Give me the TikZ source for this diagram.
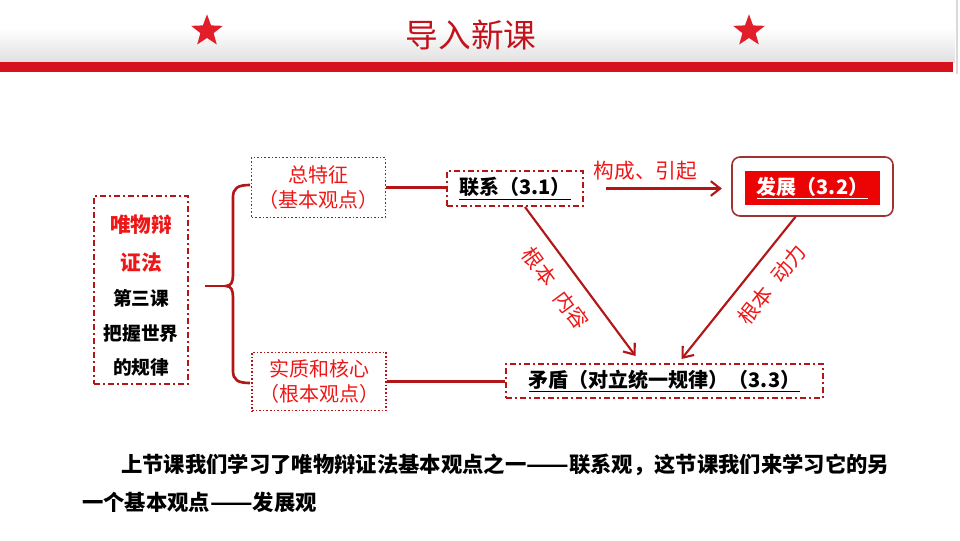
\documentclass[tikz,border=0pt]{standalone}
\usepackage{fontspec}
\setmainfont{Noto Sans CJK SC}
\usetikzlibrary{shapes.geometric,arrows.meta,calc}
\definecolor{barred}{RGB}{214,18,30}
\definecolor{titlered}{RGB}{196,18,28}
\definecolor{starred}{RGB}{226,30,42}
\definecolor{linered}{RGB}{178,22,22}
\definecolor{txtred}{RGB}{238,22,22}
\definecolor{framebrown}{RGB}{158,52,50}
\definecolor{fillred}{RGB}{236,4,4}
\newcommand{\longdash}{\resizebox{2em}{\height}{——}}

\begin{document}
\begin{tikzpicture}[x=0.75pt,y=-0.75pt]
\useasboundingbox (0,0) rectangle (960,540);
% header band
\shade[top color=white,bottom color=black!12] (0,28) rectangle (955,62);
\fill[barred] (0,62) rectangle (953,72);
\draw[black!15,line width=0.8pt] (957,0) -- (957,74);
\node[text=titlered,font=\fontsize{24.5}{28}\selectfont] (title) at (471,35) {导入新课};
\tikzstyle{redstar}=[star,star points=5,star point ratio=2.4,fill=starred,inner sep=0pt,minimum size=25pt]
\node[redstar] (starL) at (207,31) {};
\node[redstar] (starR) at (749,31) {};

\tikzstyle{dashbox}=[draw=linered,line width=1.5pt,dash pattern=on 4.5pt off 2.25pt on 1.5pt off 2.25pt,inner sep=0pt]
\tikzstyle{dotbox}=[draw=linered,line width=0.8pt,dash pattern=on 1.2pt off 1.5pt,inner sep=0pt,align=center,text=txtred,font=\fontsize{15}{18.75}\selectfont]
\tikzstyle{pen}=[draw=linered,line width=1.6pt]
\tikzstyle{arrowpen}=[pen,-{Straight Barb[length=7pt,width=11pt,line width=1.6pt]}]
\tikzstyle{keytext}=[font=\fontsize{15}{18}\selectfont\bfseries]
\tikzstyle{redlabel}=[text=txtred,font=\fontsize{15.5}{18}\selectfont,inner sep=0pt]

% left box
\node[dashbox,minimum width=70.5pt,minimum height=141pt] (dialectics) at (141,290) {};
\node[keytext,text=txtred,font=\fontsize{15.5}{18}\selectfont\bfseries] (l1) at (141,225) {唯物辩};
\node[keytext,text=txtred,font=\fontsize{15.5}{18}\selectfont\bfseries] (l2) at (141,263) {证法};
\node[keytext,font=\fontsize{14}{16}\selectfont\bfseries] (l3) at (141,298) {第三课};
\node[keytext,font=\fontsize{14}{16}\selectfont\bfseries] (l4) at (141,333) {把握世界};
\node[keytext,font=\fontsize{14}{16}\selectfont\bfseries] (l5) at (141,367) {的规律};

% brace
\coordinate (brace) at (226,286);
\draw[pen,line width=2pt] (250,185) .. controls (238,185) and (233,188) .. (233,197) -- (233,275)
  .. controls (233,282) and (231,286) .. (brace)
  .. controls (231,286) and (233,290) .. (233,297) -- (233,371)
  .. controls (233,380) and (238,383) .. (250,383);
\draw[pen,line width=2pt,shorten <=12pt] (dialectics.east |- brace) -- (brace);

\node[dotbox,minimum width=100pt,minimum height=45.5pt] (feature) at (318.5,187.5) {总特征\\（基本观点）};
\node[dotbox,minimum width=100.5pt,minimum height=44pt] (core) at (319,381.5) {实质和核心\\（根本观点）};

\node[dashbox,keytext,minimum width=102pt,minimum height=26.25pt] (lianxi) at (515,188.5) {\underline{联系（3.1）}};
\node[draw=framebrown,line width=1.2pt,rounded corners=6pt,minimum width=120.75pt,minimum height=44.25pt] (fazhanframe) at (812.5,186.5) {};
\node[keytext,fill=fillred,text=white,minimum width=101pt,minimum height=25.5pt] (fazhan) at (812.5,188) {\underline{发展（3.2）}};
\node[dashbox,keytext,minimum width=237.75pt,minimum height=25.5pt] (maodun) at (664.5,381) {\underline{矛盾（对立统一规律）（3.3）}};

\draw[pen] (feature.east) -- (feature.east -| lianxi.west);
\draw[pen] (core.east) -- (core.east -| maodun.west);
\draw[arrowpen,shorten <=16.5pt,shorten >=7pt] (lianxi.east) -- node[redlabel,above=5pt,xshift=-9pt]{构成、引起} (lianxi.east -| fazhanframe.west);
\draw[arrowpen] ($(lianxi.south)+(10,0)$) -- node[redlabel,sloped,below=10pt,pos=0.45]{根本\hspace{0.6em}内容} ($(maodun.north)+(-29,-7)$);
\draw[arrowpen] ($(fazhanframe.south)+(-17,0)$) -- node[redlabel,sloped,below=10pt,pos=0.37]{根本\hspace{0.6em}动力} ($(maodun.north)+(17,-4)$);

% bottom text
\node[keytext,font=\fontsize{16}{20}\selectfont\bfseries,anchor=west,inner sep=0pt] (para1) at (121,465) {上节课我们学习了唯物辩证法基本观点之一\longdash 联系观，这节课我们来学习它的另};
\node[keytext,font=\fontsize{16}{20}\selectfont\bfseries,anchor=west,inner sep=0pt] (para2) at (82,502) {一个基本观点\longdash 发展观};
\end{tikzpicture}
\end{document}
